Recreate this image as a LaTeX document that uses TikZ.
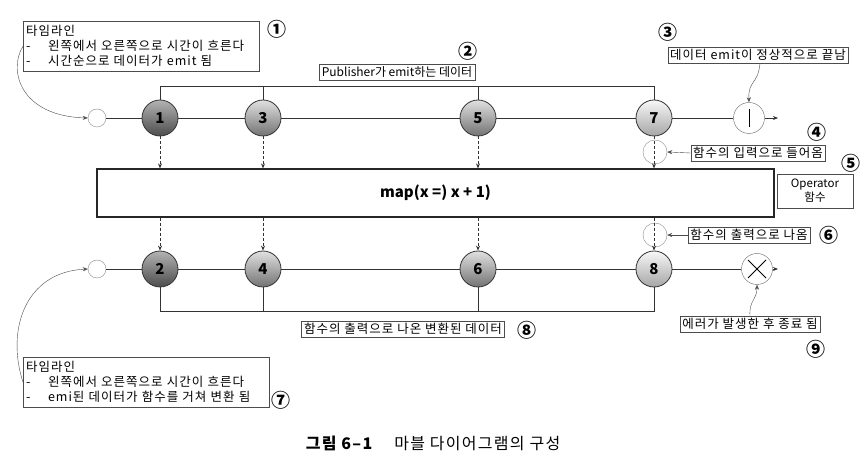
\documentclass[tikz,border=0pt]{standalone}
\usepackage{fontspec}
\setmainfont{Noto Sans CJK KR}
\newfontfamily\krwide[LetterSpace=8]{Noto Sans CJK KR}
\usetikzlibrary{positioning,arrows.meta}
\tikzset{ev/.style 2 args={circle,draw=black!80,thick,minimum size=36pt,inner sep=0pt,
            top color=black!#1,bottom color=black!#2,font=\fontsize{15}{15}\selectfont\bfseries},
         hole/.style={circle,draw=black!45,minimum size=18pt,inner sep=0pt},
         endmark/.style={circle,draw=black!60,minimum size=31pt,inner sep=0pt},
         pass/.style={circle,draw=black!45,minimum width=24pt,minimum height=20pt,inner sep=0pt},
         lbl/.style={draw=black!70,inner sep=2.5pt,font=\fontsize{12.5}{14}\selectfont\krwide},
         note/.style={lbl,anchor=north west,align=left,inner sep=3pt,
            font=\fontsize{12.5}{15}\selectfont\krwide},
         num/.style={font=\fontsize{19}{19}\selectfont\bfseries},
         tip/.style={-{Stealth[length=5pt,width=4pt]}},
         feed/.style={densely dashed,thick,black!80,-{Stealth[length=5pt,width=4pt]}},
         }
\begin{document}
\begin{tikzpicture}[x=1pt,y=-1pt]
\useasboundingbox[fill=white] (0,0) rectangle (868,470);
\coordinate (topbar) at (0,86);
\coordinate (botbar) at (0,311);
\coordinate (topend) at (778,118);
\coordinate (botend) at (778,269);
% upper timeline
\node[hole] (s1) at (97,118) {};
\node[ev={30}{70}] (e1) at (160,118) {1};
\node[ev={12}{55}] (e3) at (263,118) {3};
\node[ev={12}{55}] (e5) at (478,118) {5};
\node[ev={3}{35}] (e7) at (654,118) {7};
\node[endmark] (done) at (749,118) {};
\draw[thick,black!80] (s1) -- (e1) -- (e3) -- (e5) -- (e7) -- (done);
\draw[thick,black!80,tip] (done) -- (topend);
\draw[thick] ([yshift=9pt]done.center) -- ([yshift=-9pt]done.center);
% operator
\node[draw=black!85,very thick,minimum width=677pt,minimum height=48pt,
      font=\fontsize{15}{15}\selectfont\bfseries] (op) at (435.5,193) {map(x =) x + 1)};
\node[lbl,align=center,minimum width=76pt,minimum height=34pt,
      font=\fontsize{11.5}{14}\selectfont] (opl) at (815,191) {Operator\\함수};
% lower timeline
\node[hole] (s2) at (97,269) {};
\node[ev={30}{70}] (e2) at (160,269) {2};
\node[ev={12}{55}] (e4) at (263,269) {4};
\node[ev={12}{55}] (e6) at (478,269) {6};
\node[ev={3}{35}] (e8) at (654,269) {8};
\node[endmark] (err) at (757,269) {};
\draw[thick,black!80] (s2) -- (e2) -- (e4) -- (e6) -- (e8) -- (err);
\draw[thick,black!80,tip] (err) -- (botend);
\draw[thick] ([shift={(-9pt,-9pt)}]err.center) -- ([shift={(9pt,9pt)}]err.center);
\draw[thick] ([shift={(-9pt,9pt)}]err.center) -- ([shift={(9pt,-9pt)}]err.center);
% input / output
\node[pass] (in) at (655,152) {};
\node[pass] (out) at (655,235) {};
\foreach \e in {e1,e3,e5,e7}
  \draw[feed] (\e.south) -- (\e.south |- op.north);
\foreach \e in {e2,e4,e6,e8}
  \draw[feed] (op.south -| \e) -- (\e.north);
% brackets
\draw[black!80] (e1.north) |- (topbar -| e7) -- (e7.north);
\draw[black!80] (e3.north) -- (e3.north |- topbar);
\draw[black!80] (e5.north) -- (e5.north |- topbar);
\draw[black!80] (e2.south) |- (botbar -| e8) -- (e8.south);
\draw[black!80] (e4.south) -- (e4.south |- botbar);
\draw[black!80] (e6.south) -- (e6.south |- botbar);
% labels
\node[note,text width=230pt,minimum height=50pt] (tl1) at (23,21)
  {타임라인\\-\hspace{1.4em}왼쪽에서 오른쪽으로 시간이 흐른다\\-\hspace{1.4em}시간순으로 데이터가 emit 됨};
\node[num] (n1) at (277,29) {①};
\node[lbl,font=\fontsize{12}{14}\selectfont] (pub) at (397,72) {Publisher가 emit하는 데이터};
\node[num] (n2) at (468,51) {②};
\node[lbl] (ok) at (758,55) {데이터 emit이 정상적으로 끝남};
\node[num] (n3) at (668,32) {③};
\node[lbl] (inl) at (758,153) {함수의 입력으로 들어옴};
\node[num] (n4) at (817,132) {④};
\node[num] (n5) at (851,163) {⑤};
\node[lbl] (outl) at (749,235) {함수의 출력으로 나옴};
\node[num] (n6) at (829,235) {⑥};
\node[lbl] (res) at (403,329) {함수의 출력으로 나온 변환된 데이터};
\node[num] (n8) at (527,330) {⑧};
\node[note,text width=240pt,minimum height=50pt] (tl2) at (23,357)
  {타임라인\\-\hspace{1.4em}왼쪽에서 오른쪽으로 시간이 흐른다\\-\hspace{1.4em}emi된 데이터가 함수를 거쳐 변환 됨};
\node[num] (n7) at (281,400) {⑦};
\node[lbl] (errl) at (750,324) {에러가 발생한 후 종료 됨};
\node[num] (n9) at (816,349) {⑨};
% pointers
\draw[black!70,tip] (tl1.west) .. controls (8,70) and (20,116) .. (s1.west);
\draw[black!70,tip] (tl2.west) .. controls (6,330) and (25,272) .. (s2.west);
\draw[black!70,tip] (ok.south -| 760,0) .. controls (758,85) and (748,80) .. (done.north);
\draw[black!70,tip] (errl.north) .. controls (749,300) and (757,300) .. (err.south);
\draw[black!70,tip] (inl.west) -- (in.east);
\draw[black!70,tip] (outl.west) -- (out.east);
% caption
\node[font=\fontsize{16}{16}\selectfont\krwide] (cap) at (433,443) {\textbf{그림 6–1}\hspace{1.3em}마블 다이어그램의 구성};
\end{tikzpicture}
\end{document}
